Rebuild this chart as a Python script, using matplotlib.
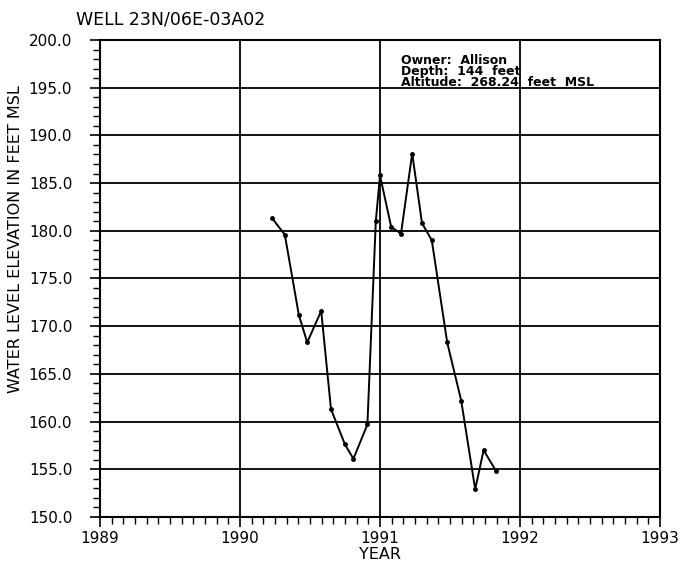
import matplotlib
matplotlib.use("Agg")
import matplotlib.pyplot as plt
from matplotlib.ticker import MultipleLocator, FormatStrFormatter

# water level readings (decimal year, feet MSL)
years = [1990.23, 1990.32, 1990.42, 1990.48, 1990.58, 1990.65, 1990.75, 1990.81,
         1990.91, 1990.97, 1991.00, 1991.08, 1991.15, 1991.23, 1991.30, 1991.37,
         1991.48, 1991.58, 1991.68, 1991.74, 1991.83]
levels = [181.3, 179.6, 171.2, 168.3, 171.6, 161.3, 157.6, 156.1,
          159.7, 181.0, 185.8, 180.4, 179.7, 188.1, 180.8, 179.0,
          168.3, 162.2, 152.9, 157.0, 154.8]

title = "WELL 23N/06E-03A02"
info = "Owner:  Allison\nDepth:  144  feet\nAltitude:  268.24  feet  MSL"

fig = plt.figure(figsize=(6.84, 5.69), dpi=100)
ax = fig.add_axes([100/684, 1 - 517/569, 560/684, 477/569])

ax.plot(years, levels, color='black', lw=1.4, marker='o', ms=2.5)

ax.set_xlim(1989, 1993)
ax.set_ylim(150, 200)
ax.xaxis.set_major_locator(MultipleLocator(1))
ax.xaxis.set_minor_locator(MultipleLocator(1/12))
ax.yaxis.set_major_locator(MultipleLocator(5))
ax.yaxis.set_minor_locator(MultipleLocator(1))
ax.yaxis.set_major_formatter(FormatStrFormatter('%.1f'))
ax.xaxis.set_major_formatter(FormatStrFormatter('%d'))

ax.grid(True, which='major', color='black', lw=1.3)
ax.tick_params(which='both', direction='out', color='black', labelsize=11,
               top=False, right=False)
ax.tick_params(which='major', length=7, width=1.2)
ax.tick_params(which='minor', length=5, width=1.0)
ax.tick_params(axis='x', which='major', pad=3)
ax.tick_params(axis='y', which='major', pad=13)
for s in ax.spines.values():
    s.set_linewidth(1.5)

ax.set_xlabel("YEAR", fontsize=11.5, labelpad=1)
ax.set_ylabel("WATER LEVEL ELEVATION IN FEET MSL", fontsize=11.5)
ax.yaxis.set_label_coords(-77/560, 0.583)

fig.text(76/684, 1 - 24/569, title, fontsize=12.5, ha='left', va='baseline')
fig.text(401/684, 1 - 72/569, info, fontsize=9, fontweight='bold',
         ha='left', va='center', linespacing=0.8)

fig.savefig("out.png", dpi=100)
